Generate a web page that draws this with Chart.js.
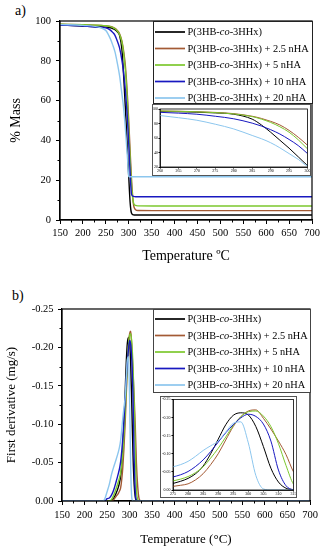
<!DOCTYPE html>
<html lang="en">
<head>
  <meta charset="UTF-8">
  <title>TGA / DTG curves</title>
  <script src="https://cdn.jsdelivr.net/npm/chart.js@4"></script>
  <style>
    body { margin: 0; background: #fff; width: 323px; height: 550px; position: relative; overflow: hidden; font-family: "Liberation Serif", serif; }
    canvas { position: absolute; }
    .tag { position: absolute; font-size: 14px; line-height: 14px; }
  </style>
</head>
<body>
  <div class="tag" style="left:15px; top:4px">a)</div>
  <div class="tag" style="left:12px; top:289px">b)</div>
  <canvas id="mainA" width="323" height="265" style="left:0; top:0"></canvas>
  <canvas id="insetA" width="159" height="72" style="left:152px; top:104px"></canvas>
  <canvas id="mainB" width="323" height="280" style="left:0; top:270px"></canvas>
  <canvas id="insetB" width="137" height="102" style="left:160px; top:396px"></canvas>

  <script>
    // series names and colours
    const seriesLabels = [
      "P(3HB-co-3HHx)",
      "P(3HB-co-3HHx) + 2.5 nHA",
      "P(3HB-co-3HHx) + 5 nHA",
      "P(3HB-co-3HHx) + 10 nHA",
      "P(3HB-co-3HHx) + 20 nHA"
    ];
    const seriesColors = ["#000000", "#a35a34", "#7cc82e", "#1818c0", "#8cc6ee"];

    // a) mass (%) vs temperature
    const tempsA = [150, 200, 240, 250, 260, 265, 270, 275, 280, 285, 287.5, 290, 292.5, 295, 297.5, 300, 303, 306, 310, 315, 320, 400, 500, 600, 700];
    const massNeat = [98.0, 97.5, 97.0, 96.9, 96.6, 96.2, 95.6, 94.6, 92.8, 86.0, 78.0, 68.0, 57.0, 46.0, 34.0, 22.0, 9.0, 3.5, 2.6, 2.5, 2.5, 2.5, 2.5, 2.5, 2.5];
    const mass25   = [98.4, 98.1, 97.8, 97.6, 97.3, 96.9, 96.3, 95.3, 93.6, 90.0, 87.0, 83.0, 78.0, 70.5, 61.0, 50.0, 35.0, 21.0, 8.5, 5.2, 4.8, 4.7, 4.7, 4.7, 4.7];
    const mass5    = [98.4, 98.1, 97.8, 97.6, 97.2, 96.8, 96.1, 95.0, 93.2, 89.5, 86.0, 81.5, 75.5, 68.0, 57.5, 45.0, 31.0, 18.0, 9.0, 7.3, 7.1, 7.0, 7.0, 7.0, 7.0];
    const mass10   = [98.0, 97.5, 96.8, 96.6, 95.4, 94.3, 92.8, 90.0, 86.5, 80.5, 76.5, 71.5, 65.5, 58.0, 49.5, 38.5, 24.0, 13.0, 11.9, 11.7, 11.7, 11.7, 11.7, 11.7, 11.7];
    const mass20   = [98.2, 97.8, 96.5, 95.2, 91.0, 88.0, 84.5, 79.0, 72.5, 63.5, 59.0, 53.5, 46.5, 38.5, 30.5, 22.0, 21.7, 21.7, 21.7, 21.7, 21.7, 21.7, 21.7, 21.7, 21.7];

    // b) first derivative (mg/s) vs temperature
    const tempsB = [150, 235, 240, 245, 250, 255, 260, 265, 270, 275, 277.5, 280, 282.5, 285, 287.5, 290, 292.5, 295, 297.5, 300, 302.5, 305, 307.5, 310, 312.5, 315, 318, 321, 325, 400, 500, 600, 700];
    const dtgNeat = [0, 0, 0, 0, 0, 0, -0.001, -0.004, -0.010, -0.018, -0.024, -0.032, -0.045, -0.066, -0.100, -0.140, -0.180, -0.206, -0.213, -0.207, -0.175, -0.120, -0.060, -0.022, -0.005, -0.001, 0, 0, 0, 0, 0, 0, 0];
    const dtg25   = [0, 0, 0, 0, 0, 0, 0, -0.002, -0.006, -0.010, -0.013, -0.017, -0.028, -0.045, -0.070, -0.100, -0.138, -0.175, -0.202, -0.218, -0.221, -0.198, -0.168, -0.135, -0.098, -0.050, -0.018, -0.003, 0, 0, 0, 0, 0];
    const dtg5    = [0, 0, 0, 0, 0, 0, -0.002, -0.008, -0.016, -0.025, -0.030, -0.037, -0.048, -0.064, -0.088, -0.115, -0.146, -0.178, -0.202, -0.216, -0.218, -0.204, -0.175, -0.128, -0.068, -0.016, -0.002, 0, 0, 0, 0, 0, 0];
    const dtg10   = [0, 0, 0, 0, -0.003, -0.004, -0.008, -0.015, -0.025, -0.036, -0.042, -0.051, -0.065, -0.083, -0.106, -0.132, -0.158, -0.180, -0.199, -0.209, -0.203, -0.182, -0.135, -0.055, -0.012, -0.001, 0, 0, 0, 0, 0, 0, 0];
    const dtg20   = [0, 0, 0, -0.003, -0.012, -0.022, -0.035, -0.045, -0.054, -0.064, -0.070, -0.079, -0.093, -0.109, -0.122, -0.135, -0.160, -0.184, -0.188, -0.130, -0.040, -0.003, 0, 0, 0, 0, 0, 0, 0, 0, 0, 0, 0];

    // tick labels
    const xTicksMain = [150, 200, 250, 300, 350, 400, 450, 500, 550, 600, 650, 700];
    const yTicksA = [0, 20, 40, 60, 80, 100];
    const yTicksB = [-0.25, -0.20, -0.15, -0.10, -0.05, 0];
    const xTicksInsetA = [260, 265, 270, 275, 280, 285, 290, 295, 300];
    const yTicksInsetA = [20, 40, 60, 80, 100];
    const xTicksInsetB = [275, 280, 285, 290, 295, 300, 305, 310, 315];

    const serif = '"Liberation Serif", "Times New Roman", serif';
    Chart.defaults.font.family = serif;
    Chart.defaults.color = "#000";

    function makeSets(temps, seriesVals, width) {
      return seriesVals.map((vals, i) => ({
        label: seriesLabels[i],
        data: temps.map((t, k) => ({ x: t, y: vals[k] })),
        borderColor: seriesColors[i],
        borderWidth: width,
        pointRadius: 0,
        fill: false,
        cubicInterpolationMode: "monotone",
        order: seriesVals.length - 1 - i // light blue drawn on top
      }));
    }

    // label with italic "co"
    function drawLabel(ctx, text, x, y, size) {
      const parts = text.split("-co-");
      const segs = [[parts[0] + "-", false], ["co", true], ["-" + parts[1], false]];
      for (const [s, it] of segs) {
        ctx.font = (it ? "italic " : "") + size + "px " + serif;
        ctx.fillText(s, x, y);
        x += ctx.measureText(s).width;
      }
    }

    const legendBox = {
      id: "legendBox",
      afterDraw(chart, args, o) {
        if (!o.w) return;
        const ctx = chart.ctx;
        ctx.save();
        ctx.fillStyle = "#fff";
        ctx.fillRect(o.x, o.y, o.w, o.h);
        ctx.strokeStyle = o.border;
        ctx.lineWidth = 1;
        ctx.strokeRect(o.x + 0.5, o.y + 0.5, o.w, o.h);
        ctx.textBaseline = "middle";
        ctx.fillStyle = "#000";
        chart.data.datasets.forEach((ds, i) => {
          const y = o.y + o.first + i * o.rowH;
          ctx.strokeStyle = ds.borderColor;
          ctx.lineWidth = 1.7;
          ctx.beginPath();
          ctx.moveTo(o.x + 2, y);
          ctx.lineTo(o.x + 32, y);
          ctx.stroke();
          drawLabel(ctx, ds.label, o.x + 34.5, y + 0.5, o.size);
        });
        ctx.restore();
      }
    };

    const minorTicks = {
      id: "minorTicks",
      afterDraw(chart, args, o) {
        if (!o.len) return;
        const { ctx, chartArea: a } = chart;
        const sx = chart.scales.x, sy = chart.scales.y;
        ctx.save();
        ctx.strokeStyle = "#000";
        ctx.lineWidth = 1;
        ctx.beginPath();
        const nx = Math.round((sx.max - sx.min) / o.xStep);
        for (let k = 1; k < nx; k += 2) {
          const px = Math.round(sx.getPixelForValue(sx.min + k * o.xStep)) + 0.5;
          ctx.moveTo(px, a.bottom);
          ctx.lineTo(px, a.bottom + o.len);
        }
        const ny = Math.round((sy.max - sy.min) / o.yStep);
        for (let k = 1; k < ny; k += 2) {
          const py = Math.round(sy.getPixelForValue(sy.min + k * o.yStep)) + 0.5;
          ctx.moveTo(a.left, py);
          ctx.lineTo(a.left - o.len, py);
        }
        ctx.stroke();
        ctx.restore();
      }
    };

    const frame = {
      id: "frame",
      beforeDraw(chart, args, o) {
        if (!o.bg) return;
        chart.ctx.save();
        chart.ctx.fillStyle = "#fff";
        chart.ctx.fillRect(0, 0, chart.width, chart.height);
        chart.ctx.restore();
      },
      afterDraw(chart, args, o) {
        const { ctx, chartArea: a } = chart;
        ctx.save();
        ctx.strokeStyle = "#000";
        ctx.lineWidth = o.width || 1.2;
        ctx.strokeRect(a.left, a.top, a.right - a.left, a.bottom - a.top);
        if (o.outer) {
          ctx.strokeStyle = o.outer;
          ctx.lineWidth = 1;
          ctx.strokeRect(0.5, 0.5, chart.width - 1, chart.height - 1);
        }
        ctx.restore();
      }
    };

    function axis(o) {
      const horiz = o.horiz;
      const ax = {
        type: "linear",
        min: o.min,
        max: o.max,
        reverse: !!o.reverse,
        afterBuildTicks: s => { s.ticks = o.ticks.map(v => ({ value: v })); },
        afterFit: s => { if (horiz) s.height = o.size; else s.width = o.size; },
        grid: { drawOnChartArea: false, drawTicks: true, tickLength: o.tickLen, color: "#000", lineWidth: 1 },
        border: { color: "#000", width: o.borderW },
        ticks: { font: { size: o.font }, padding: o.pad, autoSkip: false, maxRotation: 0, callback: o.fmt || (v => v) }
      };
      if (o.title) {
        ax.title = { display: true, text: o.title, font: { size: o.titleSize }, padding: o.titlePad };
      }
      return ax;
    }

    function baseOptions(padding, scales, extra) {
      return {
        responsive: false,
        animation: false,
        devicePixelRatio: 1,
        layout: { padding: padding },
        plugins: Object.assign({ legend: { display: false }, tooltip: { enabled: false } }, extra),
        scales: scales
      };
    }

    const fmt2 = v => Number(v).toFixed(2);

    // a) main
    new Chart(document.getElementById("mainA"), {
      type: "line",
      data: { datasets: makeSets(tempsA, [massNeat, mass25, mass5, mass10, mass20], 1.4) },
      options: baseOptions({ top: 21, right: 11, left: 0, bottom: 0 }, {
        x: axis({ horiz: true, min: 150, max: 700, ticks: xTicksMain, size: 45, tickLen: 4, borderW: 1.2, font: 10.5, pad: 3,
                  title: "Temperature ºC", titleSize: 14, titlePad: { top: 0, bottom: 0.5 } }),
        y: axis({ min: 0, max: 100, ticks: yTicksA, size: 60, tickLen: 4, borderW: 1.2, font: 10.5, pad: 5,
                  title: "% Mass", titleSize: 14, titlePad: { top: 8, bottom: 0 } })
      }, {
        legendBox: { x: 153, y: 21, w: 159, h: 82, first: 11, rowH: 16.5, size: 10.4, border: "#222" },
        minorTicks: { len: 2.5, xStep: 25, yStep: 10 },
        frame: { width: 1.2 }
      }),
      plugins: [frame, minorTicks, legendBox]
    });

    // a) inset
    new Chart(document.getElementById("insetA"), {
      type: "line",
      data: { datasets: makeSets(tempsA, [massNeat, mass25, mass5, mass10, mass20], 1) },
      options: baseOptions({ top: 5, right: 3, left: 0, bottom: 0 }, {
        x: axis({ horiz: true, min: 260, max: 300, ticks: xTicksInsetA, size: 9, tickLen: 1.5, borderW: 0.8, font: 4, pad: 0.5 }),
        y: axis({ min: 20, max: 100, ticks: yTicksInsetA, size: 8, tickLen: 1.5, borderW: 0.8, font: 4, pad: 0.5 })
      }, {
        frame: { width: 0.8, bg: true, outer: "#555" }
      }),
      plugins: [frame]
    });

    // b) main
    new Chart(document.getElementById("mainB"), {
      type: "line",
      data: { datasets: makeSets(tempsB, [dtgNeat, dtg25, dtg5, dtg10, dtg20], 1.4) },
      options: baseOptions({ top: 39, right: 13, left: 0, bottom: 0 }, {
        x: axis({ horiz: true, min: 150, max: 700, ticks: xTicksMain, size: 49, tickLen: 4, borderW: 1.2, font: 10.5, pad: 4,
                  title: "Temperature (°C)", titleSize: 13, titlePad: { top: 0, bottom: 3 } }),
        y: axis({ min: -0.25, max: 0, reverse: true, ticks: yTicksB, size: 62, tickLen: 4, borderW: 1.2, font: 10.5, pad: 4.5, fmt: fmt2,
                  title: "First derivative (mg/s)", titleSize: 13, titlePad: { top: 4, bottom: 0 } })
      }, {
        legendBox: { x: 153, y: 39, w: 157, h: 83, first: 10, rowH: 16.5, size: 10.3, border: "#444" },
        minorTicks: { len: 2.5, xStep: 25, yStep: 0.025 },
        frame: { width: 1.2 }
      }),
      plugins: [frame, minorTicks, legendBox]
    });

    // b) inset
    new Chart(document.getElementById("insetB"), {
      type: "line",
      data: { datasets: makeSets(tempsB, [dtgNeat, dtg25, dtg5, dtg10, dtg20], 1) },
      options: baseOptions({ top: 3, right: 2, left: 0, bottom: 0 }, {
        x: axis({ horiz: true, min: 275, max: 315, ticks: xTicksInsetB, size: 8, tickLen: 1.5, borderW: 0.8, font: 4, pad: 0.5 }),
        y: axis({ min: -0.25, max: 0, reverse: true, ticks: yTicksB, size: 13, tickLen: 1.5, borderW: 0.8, font: 4, pad: 1, fmt: fmt2 })
      }, {
        frame: { width: 0.8, bg: true, outer: "#555" }
      }),
      plugins: [frame]
    });
  </script>
</body>
</html>
